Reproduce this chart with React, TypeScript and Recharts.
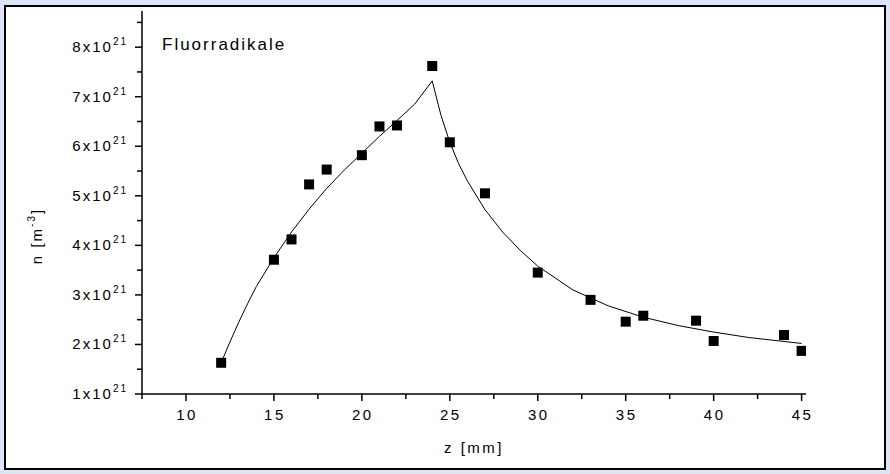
import React from 'react';
import { ComposedChart, Line, Scatter, XAxis, YAxis } from 'recharts';

// measured points, z in mm, n in 1e21 m^-3
const zMeasured = [12, 15, 16, 17, 18, 20, 21, 22, 24, 25, 27, 30, 33, 35, 36, 39, 40, 44, 45];
const nMeasured = [1.63, 3.71, 4.12, 5.23, 5.53, 5.82, 6.4, 6.42, 7.62, 6.08, 5.05, 3.45, 2.9, 2.46, 2.58, 2.48, 2.07, 2.19, 1.87];

// fitted curve
const zFit = [12, 12.5, 13, 13.5, 14, 15, 16, 17, 18, 19, 20, 21, 22, 23, 24, 24.5, 25, 25.5, 26, 27, 28, 29, 30, 32, 34, 36, 38, 40, 42, 45];
const nFit = [1.63, 2.05, 2.45, 2.82, 3.17, 3.75, 4.27, 4.73, 5.15, 5.52, 5.86, 6.2, 6.52, 6.85, 7.32, 6.62, 6.08, 5.65, 5.3, 4.72, 4.27, 3.9, 3.58, 3.1, 2.78, 2.55, 2.38, 2.25, 2.14, 2.02];

const xTicks = [7.5, 10, 12.5, 15, 17.5, 20, 22.5, 25, 27.5, 30, 32.5, 35, 37.5, 40, 42.5, 45];
const yTicks = [1, 1.5, 2, 2.5, 3, 3.5, 4, 4.5, 5, 5.5, 6, 6.5, 7, 7.5, 8, 8.5];

const measured = zMeasured.map((z, i) => ({ z, n: nMeasured[i] }));
const fit = zFit.map((z, i) => ({ z, fit: nFit[i] }));

const font = '"Liberation Sans", Arial, sans-serif';

function XTick(props: any) {
  const { x, y, payload } = props;
  const major = payload.value % 5 === 0;
  return (
    <g>
      <line x1={x} x2={x} y1={y} y2={y + (major ? 7 : 5)} stroke="#000" strokeWidth={1.5} />
      {major && (
        <text x={x + 1} y={y + 26} textAnchor="middle" fontSize={15} letterSpacing={2.5} fill="#000" fontFamily={font}>
          {payload.value}
        </text>
      )}
    </g>
  );
}

function YTick(props: any) {
  const { x, y, payload } = props;
  const major = Number.isInteger(payload.value);
  return (
    <g>
      <line x1={x} x2={x - (major ? 7 : 5)} y1={y} y2={y} stroke="#000" strokeWidth={1.5} />
      {major && (
        <text x={x - 14} y={y + 5} textAnchor="end" fontSize={15} letterSpacing={2} fill="#000" fontFamily={font}>
          {payload.value}x10
          <tspan fontSize={10} dy={-7}>21</tspan>
        </text>
      )}
    </g>
  );
}

const square = (p: any) => <rect x={p.cx - 5} y={p.cy - 5} width={10} height={10} fill="#000" />;

export default function App() {
  return (
    <div style={{ position: 'absolute', left: 0, top: 0, width: 890, height: 474, background: '#dde4f8' }}>
      <div style={{ position: 'absolute', left: 4, top: 5, width: 878, height: 461, border: '2px solid #000', background: '#fff' }} />
      <div style={{ position: 'absolute', left: 0, top: 0 }}>
        <ComposedChart width={890} height={474} margin={{ top: 11, right: 84, bottom: 0, left: 82 }}>
          <XAxis
            type="number"
            dataKey="z"
            domain={[7.5, 45.25]}
            ticks={xTicks}
            interval={0}
            allowDataOverflow
            stroke="#000"
            strokeWidth={1.5}
            tickLine={false}
            tickSize={0}
            tickMargin={0}
            height={80}
            tick={<XTick />}
          />
          <YAxis
            type="number"
            domain={[1, 8.73]}
            ticks={yTicks}
            interval={0}
            allowDataOverflow
            stroke="#000"
            strokeWidth={1.5}
            tickLine={false}
            tickSize={0}
            tickMargin={0}
            width={60}
            tick={<YTick />}
          />
          <Line data={fit} dataKey="fit" type="linear" stroke="#000" strokeWidth={1} dot={false} isAnimationActive={false} />
          <Scatter data={measured} dataKey="n" shape={square} isAnimationActive={false} />
          <text x={162} y={50} fontSize={17} letterSpacing={2} fontFamily={font} fill="#000">Fluorradikale</text>
          <text x={474} y={453} textAnchor="middle" fontSize={15} letterSpacing={2.5} fontFamily={font} fill="#000">z [mm]</text>
          <text x={0} y={0} transform="translate(42,236) rotate(-90)" textAnchor="middle" fontSize={15} letterSpacing={2} fontFamily={font} fill="#000">
            n [m<tspan fontSize={10} dy={-7}>-3</tspan><tspan dy={7}>]</tspan>
          </text>
        </ComposedChart>
      </div>
    </div>
  );
}
